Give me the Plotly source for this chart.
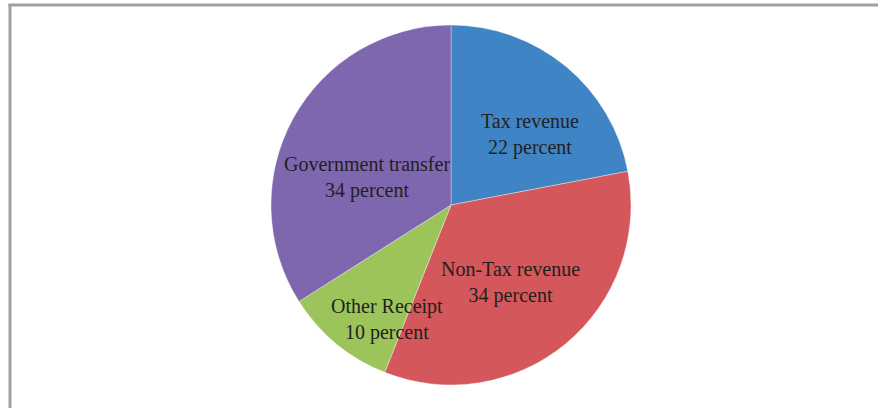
import math
import plotly.graph_objects as go

categories = ["Tax revenue", "Non-Tax revenue", "Other Receipt", "Government transfer"]
values = [22, 34, 10, 34]
colors = ["#3F85C6", "#D4575B", "#9CC45A", "#7E67AE"]

W, H = 878, 408
cx, cy, R = 451, 205, 180  # pie centre / radius in px

# label placement: (angle from top clockwise in degrees, distance in px from centre)
label_place = [(48.5, 106), (142.4, 98), (209.0, 131), (288.0, 88.5)]

fig = go.Figure(go.Pie(
    labels=categories,
    values=values,
    sort=False,
    direction="clockwise",
    rotation=0,
    marker=dict(colors=colors, line=dict(color="rgba(255,255,255,0.6)", width=0.6)),
    textinfo="none",
    hoverinfo="label+percent",
    showlegend=False,
    domain=dict(x=[(cx - R) / W, (cx + R) / W], y=[1 - (cy + R) / H, 1 - (cy - R) / H]),
))

annotations = []
for cat, val, (ang, dist) in zip(categories, values, label_place):
    a = math.radians(ang)
    px = cx + dist * math.sin(a)
    py = cy - dist * math.cos(a)
    annotations.append(dict(
        x=px / W, y=1 - py / H, xref="paper", yref="paper",
        text=f"{cat}<br>{val} percent", showarrow=False,
        font=dict(family="Liberation Serif", size=20, color="#231F20"),
        xanchor="center", yanchor="middle", align="center",
    ))

shapes = [
    dict(type="line", xref="paper", yref="paper", x0=10 / W, x1=10 / W, y0=0, y1=1 - 4 / H,
         line=dict(color="#A0A0A0", width=3)),
    dict(type="line", xref="paper", yref="paper", x0=8.5 / W, x1=1, y0=1 - 5 / H, y1=1 - 5 / H,
         line=dict(color="#A0A0A0", width=3)),
]

fig.update_layout(
    width=W, height=H,
    margin=dict(l=0, r=0, t=0, b=0),
    paper_bgcolor="white", plot_bgcolor="white",
    annotations=annotations, shapes=shapes,
)

fig.write_html("out.html")
